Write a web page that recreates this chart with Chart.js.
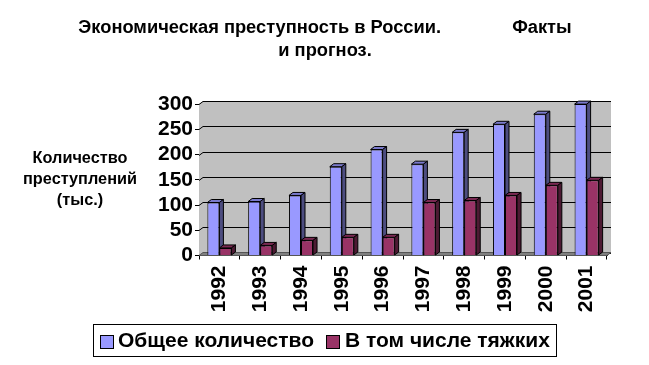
<!DOCTYPE html>
<html lang="ru">
<head>
<meta charset="UTF-8">
<title>Экономическая преступность в России</title>
<script src="https://cdn.jsdelivr.net/npm/chart.js"></script>
<style>
    html, body { margin: 0; padding: 0; background: #fff; }
    canvas { display: block; }
</style>
</head>
<body>
<canvas id="myChart" width="649" height="365"></canvas>
<script>
    const years = ['1992', '1993', '1994', '1995', '1996', '1997', '1998', '1999', '2000', '2001'];
    const totalCrimes = [105, 107, 119, 176, 210, 181, 244, 260, 280, 300];
    const graveCrimes = [15, 20, 30, 36, 36, 105, 109, 119, 139, 149];
    const titleLines = ['Экономическая преступность в России.              Факты', 'и прогноз.'];
    const yLabelLines = ['Количество', 'преступлений', '(тыс.)'];
    const seriesNames = ['Общее количество', 'В том числе тяжких'];
    const seriesColors = ['#9999ff', '#993366'];

    const DX = 4, DY = 3;   // bar depth
    const FONT = 'Liberation Sans, Arial, sans-serif';

    function poly(ctx, pts, fill) {
        ctx.beginPath();
        ctx.moveTo(pts[0][0], pts[0][1]);
        for (let i = 1; i < pts.length; i++) ctx.lineTo(pts[i][0], pts[i][1]);
        ctx.closePath();
        ctx.fillStyle = fill;
        ctx.fill();
        ctx.stroke();
    }

    // walls, floor and the gridlines behind the bars
    const wallsPlugin = {
        id: 'walls',
        beforeDatasetsDraw(chart) {
            const ctx = chart.ctx, a = chart.chartArea, y = chart.scales.y;
            ctx.save();
            ctx.strokeStyle = '#000';
            ctx.lineWidth = 1;
            ctx.fillStyle = '#c0c0c0';
            ctx.fillRect(a.left + DX, a.top - DY, a.right - a.left, a.bottom - a.top);
            ctx.beginPath();
            ctx.moveTo(a.left, a.top);
            ctx.lineTo(a.left + DX, a.top - DY);
            ctx.lineTo(a.left + DX, a.bottom - DY);
            ctx.lineTo(a.left, a.bottom);
            ctx.closePath();
            ctx.fill();
            y.ticks.forEach(function (t) {
                const py = Math.round(y.getPixelForValue(t.value)) + 0.5;
                ctx.beginPath();
                ctx.moveTo(a.left, py);
                ctx.lineTo(a.left + DX, py - DY);
                ctx.lineTo(a.right + DX, py - DY);
                ctx.stroke();
            });
            ctx.strokeStyle = '#555';
            poly(ctx, [[a.left, a.bottom], [a.right, a.bottom], [a.right + DX, a.bottom - DY], [a.left + DX, a.bottom - DY]], '#808080');
            ctx.restore();
        }
    };

    // top and side faces of each bar, drawn before the front faces
    const depthPlugin = {
        id: 'depth',
        beforeDatasetsDraw(chart) {
            const ctx = chart.ctx;
            const tops = ['#7a7acc', '#7a2952'];
            const sides = ['#4d4d80', '#4d1a33'];
            ctx.save();
            ctx.strokeStyle = '#000';
            ctx.lineWidth = 1;
            chart.data.datasets.forEach(function (ds, i) {
                chart.getDatasetMeta(i).data.forEach(function (bar) {
                    const l = bar.x - bar.width / 2, r = bar.x + bar.width / 2;
                    poly(ctx, [[l, bar.y], [l + DX, bar.y - DY], [r + DX, bar.y - DY], [r, bar.y]], tops[i]);
                    poly(ctx, [[r, bar.y], [r + DX, bar.y - DY], [r + DX, bar.base - DY], [r, bar.base]], sides[i]);
                });
            });
            ctx.restore();
        }
    };

    // horizontal y axis caption and the framed legend (the stock legend cannot put the text this close to the box)
    const extrasPlugin = {
        id: 'extras',
        afterDraw(chart) {
            const ctx = chart.ctx;
            ctx.save();
            ctx.fillStyle = '#000';
            ctx.font = 'bold 16.3px ' + FONT;
            ctx.textAlign = 'center';
            ctx.textBaseline = 'middle';
            yLabelLines.forEach(function (line, i) {
                ctx.fillText(line, 80, 159 + i * 21);
            });

            ctx.strokeStyle = '#000';
            ctx.lineWidth = 1;
            ctx.strokeRect(93.5, 324.5, 463, 32);
            ctx.font = 'bold 21px ' + FONT;
            ctx.textAlign = 'left';
            const boxX = [100.5, 326.5], textX = [118, 345];
            seriesNames.forEach(function (name, i) {
                ctx.fillStyle = seriesColors[i];
                ctx.fillRect(boxX[i], 335.5, 13, 13);
                ctx.strokeRect(boxX[i], 335.5, 13, 13);
                ctx.fillStyle = '#000';
                ctx.fillText(name, textX[i], 341);
            });
            ctx.restore();
        }
    };

    new Chart(document.getElementById('myChart'), {
        type: 'bar',
        data: {
            labels: years,
            datasets: [
                { label: seriesNames[0], data: totalCrimes, backgroundColor: seriesColors[0], borderColor: '#000', borderWidth: 1 },
                { label: seriesNames[1], data: graveCrimes, backgroundColor: seriesColors[1], borderColor: '#000', borderWidth: 1 }
            ]
        },
        options: {
            responsive: false,
            animation: false,
            layout: { padding: { left: 43, right: 42, top: 16, bottom: 47.5 } },
            datasets: { bar: { categoryPercentage: 0.59, barPercentage: 1 } },
            plugins: {
                tooltip: { enabled: false },
                legend: { display: false },
                title: {
                    display: true,
                    text: titleLines,
                    color: '#000',
                    font: { family: FONT, size: 18.3, weight: 'bold', lineHeight: 1.26 },
                    padding: { top: 0, bottom: 42 }
                }
            },
            scales: {
                x: {
                    afterFit(scale) { scale.height = 62; },
                    grid: { drawOnChartArea: false, color: '#000', tickLength: 4, offset: true },
                    border: { color: '#000' },
                    ticks: {
                        color: '#000',
                        font: { family: FONT, size: 21, weight: 'bold' },
                        maxRotation: 90,
                        minRotation: 90,
                        padding: 6
                    }
                },
                y: {
                    min: 0,
                    max: 300,
                    afterFit(scale) { scale.width = 156; },
                    grid: { drawOnChartArea: false, color: '#000', tickLength: 4 },
                    border: { color: '#000' },
                    ticks: {
                        stepSize: 50,
                        autoSkip: false,
                        color: '#000',
                        font: { family: FONT, size: 21, weight: 'bold' },
                        padding: 2
                    }
                }
            }
        },
        plugins: [wallsPlugin, depthPlugin, extrasPlugin]
    });
</script>
</body>
</html>
